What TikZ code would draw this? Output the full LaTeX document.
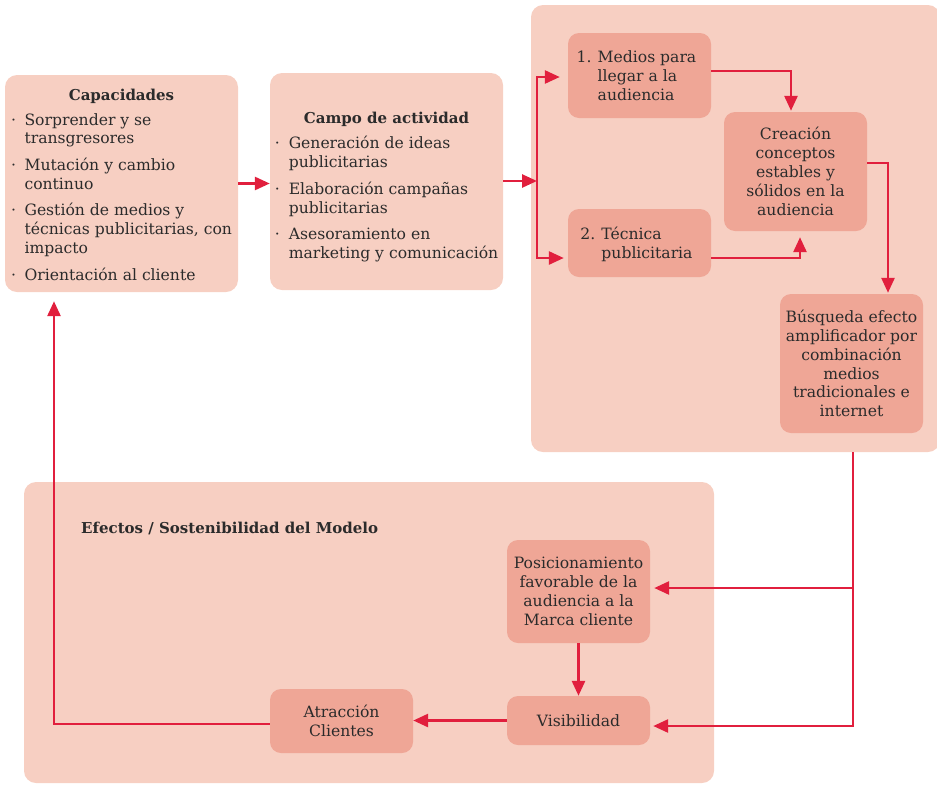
\documentclass[tikz,border=0pt]{standalone}
\usepackage{fontspec}
\setmainfont{DejaVu Serif}
\usetikzlibrary{arrows.meta,calc}
\definecolor{panelc}{HTML}{F7CFC2}
\definecolor{boxc}{HTML}{EFA696}
\definecolor{arrc}{HTML}{E11F3D}
\definecolor{txtc}{HTML}{2B2B2B}
\tikzset{
  panelbox/.style={fill=panelc, draw=none, rounded corners=12pt, inner sep=0pt},
  darkbox/.style={fill=boxc, draw=none, rounded corners=11pt, inner sep=0pt, align=center, text=txtc},
  conn/.style={draw=arrc, line width=2.7pt, -{Triangle[length=15pt,width=13pt]}},
  connboth/.style={draw=arrc, line width=2.7pt, {Triangle[length=15pt,width=13pt]}-{Triangle[length=15pt,width=13pt]}},
}
\newcommand\txt{\fontsize{15.6}{18.9}\selectfont}
\newcommand\ttl{\fontsize{15}{18.9}\selectfont\bfseries}
\begin{document}
\begin{tikzpicture}[x=1pt,y=-1pt, font=\txt, text=txtc]
\useasboundingbox (0,0) rectangle (937,785);
% panels
\node[panelbox, minimum width=409pt, minimum height=447pt] (rpanel) at (735.5,228.5) {};
\node[panelbox, minimum width=690pt, minimum height=301pt] (bpanel) at (369,632.5) {};
% left boxes
\node[panelbox, minimum width=233pt, minimum height=217pt] (cap) at (121.5,183.5) {%
\begin{tabular}{@{}p{13.5pt}@{}l@{}}
\multicolumn{2}{@{}c@{}}{\rule{0pt}{19pt}\ttl Capacidades}\\[6pt]
·& Sorprender y se\\
 & transgresores\\[7.6pt]
·& Mutación y cambio\\
 & continuo\\[7.6pt]
·& Gestión de medios y\\
 & técnicas publicitarias, con\\
 & impacto\\[7.6pt]
·& Orientación al cliente
\end{tabular}};
\node[panelbox, minimum width=233pt, minimum height=217pt] (campo) at (386.5,181.5) {%
\begin{tabular}{@{}p{14pt}@{}l@{}}
\multicolumn{2}{@{}c@{}}{\rule{0pt}{25pt}\ttl Campo de actividad}\\[6pt]
·& Generación de ideas\\
 & publicitarias\\[7.6pt]
·& Elaboración campañas\\
 & publicitarias\\[7.6pt]
·& Asesoramiento en\\
 & marketing y comunicación
\end{tabular}};
% right panel boxes
\node[darkbox, minimum width=143pt, minimum height=85pt] (medios) at (639.5,75.5) {%
\begin{tabular}{@{}p{21pt}@{}l@{\hspace{6pt}}}
\rule{0pt}{17pt}1. & Medios para\\
   & llegar a la\\
   & audiencia
\end{tabular}};
\node[darkbox, minimum width=143pt, minimum height=68pt] (tecnica) at (639.5,243) {%
\begin{tabular}{@{}p{21pt}@{}l@{\hspace{6pt}}}
\rule{0pt}{18pt}2. & Técnica\\
   & publicitaria
\end{tabular}};
\node[darkbox, minimum width=143pt, minimum height=119pt] (creacion) at (795.5,171.5) {Creación\\conceptos\\estables y\\sólidos en la\\audiencia};
\node[darkbox, minimum width=143pt, minimum height=139pt] (busqueda) at (851.5,363.5) {Búsqueda efecto\\amplificador por\\combinación\\medios\\tradicionales e\\internet};
% bottom panel boxes
\node[anchor=west, inner sep=0pt, font=\ttl] (efectos) at (81,528) {Efectos / Sostenibilidad del Modelo};
\node[darkbox, minimum width=143pt, minimum height=103pt] (posic) at (578.5,591.5) {Posicionamiento\\favorable de la\\audiencia a la\\Marca cliente};
\node[darkbox, minimum width=143pt, minimum height=49pt] (visib) at (578.5,720.5) {Visibilidad};
\node[darkbox, minimum width=143pt, minimum height=64pt] (atrac) at (341.5,721) {Atracción\\Clientes};
% junction coordinates
\coordinate (jm) at (537,181);
\coordinate (jt) at (537,77);
\coordinate (jb) at (537,258);
\coordinate (c1) at (791,71);
\coordinate (c2) at (800,258);
\coordinate (c3) at (888,163);
\coordinate (c4) at (853,726);
\coordinate (c5) at (853,588);
\coordinate (c6) at (54,724);
% connectors
\draw[conn] (cap.east) -- (cap.east -| campo.west);
\draw[conn] (jm -| campo.east) -- (jm);
\draw[connboth, shorten <=8pt, shorten >=4pt] (jt -| medios.west) -- (jt) -- (jb) -- (jb -| tecnica.west);
\draw[conn, shorten >=1pt] (c1 -| medios.east) -- (c1) -- (c1 |- creacion.north);
\draw[conn, shorten >=6pt] (c2 -| tecnica.east) -- (c2) -- (c2 |- creacion.south);
\draw[conn, shorten >=1pt] (c3 -| creacion.east) -- (c3) -- (c3 |- busqueda.north);
\draw[conn, shorten >=3pt] (c4 |- rpanel.south) -- (c4) -- (c4 -| visib.east);
\draw[conn, shorten >=4pt] (c5) -- (c5 -| posic.east);
\draw[conn] (posic.south) -- (visib.north);
\draw[conn] (visib.west) -- (visib.west -| atrac.east);
\draw[conn, shorten >=9pt] (c6 -| atrac.west) -- (c6) -- (c6 |- cap.south);
\end{tikzpicture}
\end{document}
